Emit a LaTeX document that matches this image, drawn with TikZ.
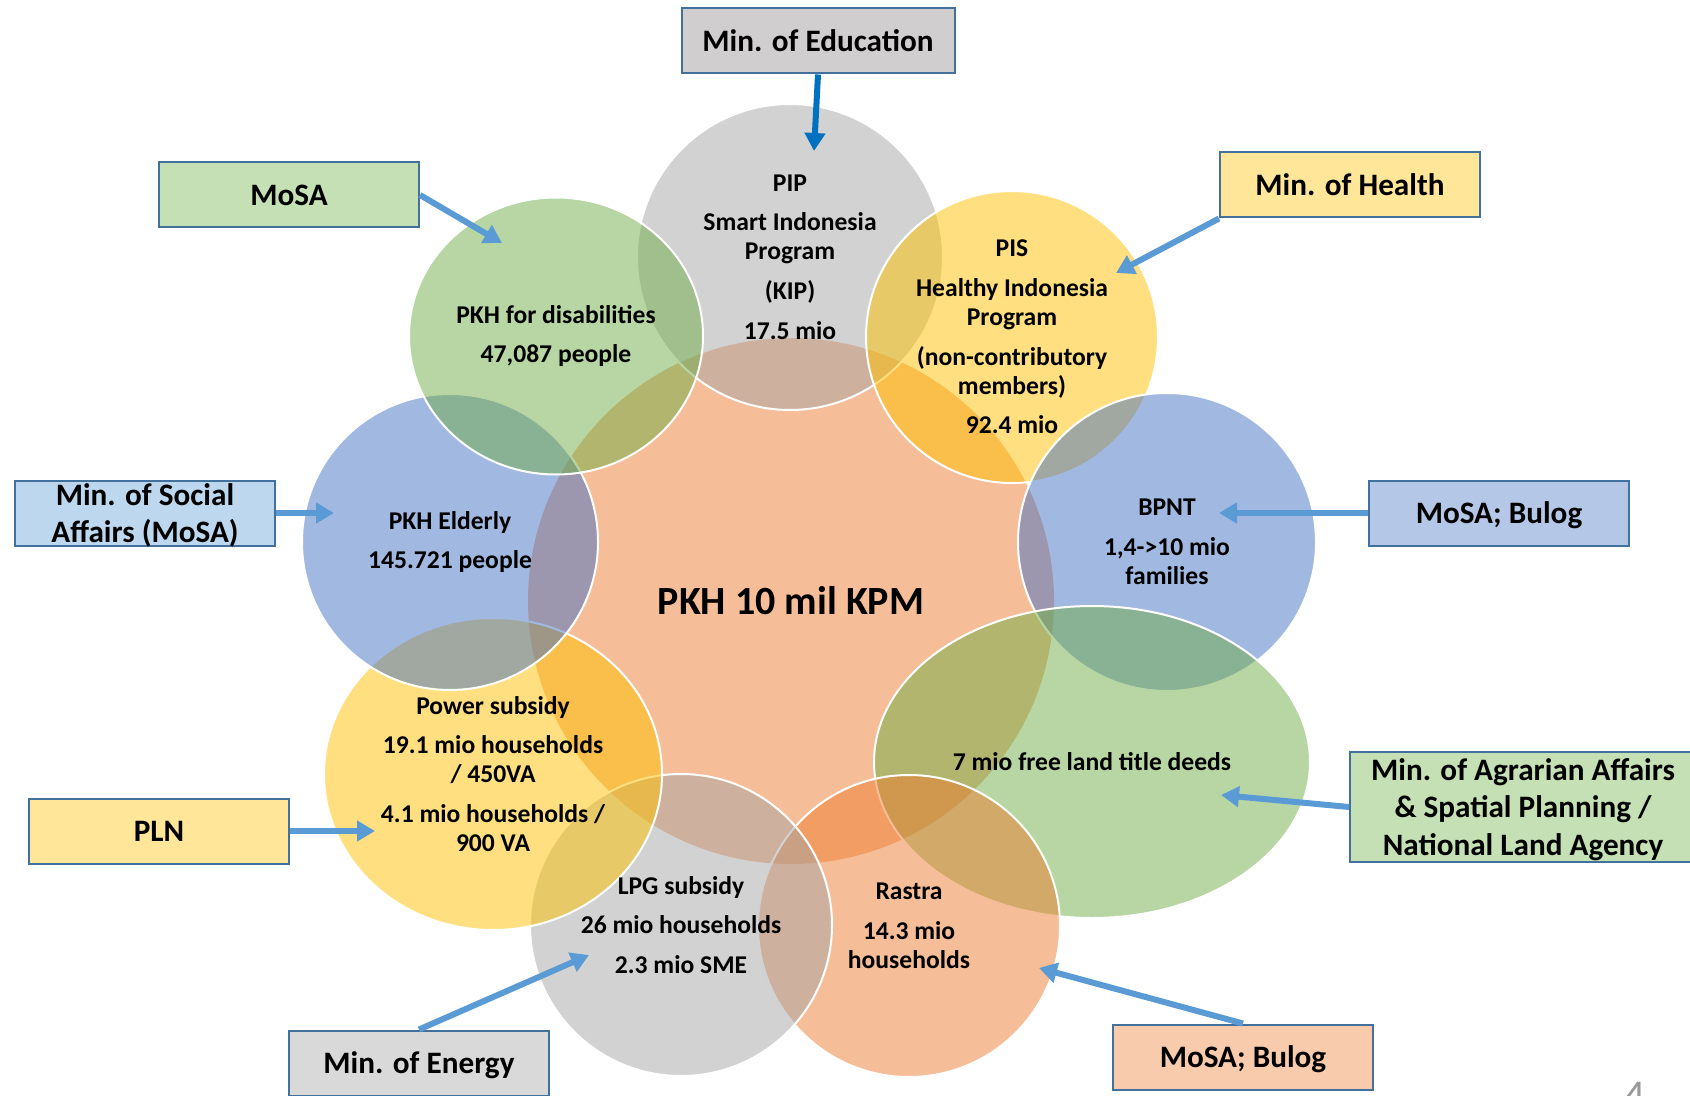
\documentclass[tikz,border=0pt]{standalone}
\usepackage{fontspec}
\setmainfont{Carlito}
\usetikzlibrary{shapes.geometric,arrows.meta}

\definecolor{orangeO}{HTML}{ED7D31}
\definecolor{grisO}{HTML}{A5A5A5}
\definecolor{jauneO}{HTML}{FFC000}
\definecolor{bleuO}{HTML}{4472C4}
\definecolor{vertO}{HTML}{70AD47}
\definecolor{bord}{HTML}{41719C}
\definecolor{flecheBleu}{HTML}{5B9BD5}
\definecolor{flecheFonce}{HTML}{0070C0}
\definecolor{boiteGris}{HTML}{D0CECE}
\definecolor{boiteGrisC}{HTML}{D9D9D9}
\definecolor{boiteVert}{HTML}{C5E0B4}
\definecolor{boiteJaune}{HTML}{FFE699}
\definecolor{boiteBleuC}{HTML}{BDD7EE}
\definecolor{boiteBleu}{HTML}{B4C7E7}
\definecolor{boiteSaumon}{HTML}{F8CBAD}

\begin{document}
\begin{tikzpicture}[x=0.5pt,y=-0.5pt,
  rond/.style={circle,draw=white,line width=1pt,fill opacity=0.5,inner sep=0pt},
  ovale/.style={ellipse,draw=white,line width=1pt,fill opacity=0.5,inner sep=0pt},
  texte/.style={align=center,font=\fontsize{12.8}{14.5}\selectfont\bfseries},
  boite/.style={draw=bord,line width=1pt,minimum width=130pt,minimum height=32.5pt,
    inner sep=0pt,text depth=0pt,align=center,font=\fontsize{15.6}{18.9}\selectfont\bfseries},
  fleche/.style={draw=flecheBleu,line width=3pt,-{Triangle[length=9pt,width=10pt]}}]

\useasboundingbox (0,0) rectangle (1690,1096);

% Cercle central
\node[rond,draw=none,fill=orangeO,minimum size=263pt] (kpm) at (791,601) {};

% Programmes autour
\node[rond,fill=grisO,minimum size=153pt] (pip) at (790,257) {};
\node[rond,fill=jauneO,minimum size=146pt] (pis) at (1012,337) {};
\node[rond,fill=bleuO,minimum size=149pt] (bpnt) at (1167,542) {};
\node[ovale,fill=vertO,minimum width=218pt,minimum height=156pt] (terre) at (1092,762) {};
\node[rond,fill=orangeO,minimum size=151pt] (rastra) at (909,926) {};
\node[rond,fill=grisO,minimum size=151pt] (lpg) at (681,925) {};
\node[ovale,fill=jauneO,minimum width=169pt,minimum height=156pt] (elec) at (493,774) {};
\node[rond,fill=bleuO,minimum size=148pt] (agees) at (450,542) {};
\node[ovale,fill=vertO,minimum width=147pt,minimum height=138.5pt] (handi) at (556,336) {};

% Textes des cercles
\node[font=\fontsize{20}{24}\selectfont\bfseries] (kpmT) at (kpm) {PKH 10 mil KPM};
\node[texte] (pipT) at (pip) {PIP\\[5.3pt] Smart Indonesia\\ Program\\[5.3pt] (KIP)\\[5.3pt] 17.5 mio};
\node[texte] (pisT) at (pis) {PIS\\[5.3pt] Healthy Indonesia\\ Program\\[5.3pt] (non-contributory\\ members)\\[5.3pt] 92.4 mio};
\node[texte] (bpntT) at (bpnt) {BPNT\\[5.3pt] 1,4->10 mio\\ families};
\node[texte] (terreT) at (terre) {7 mio free land title deeds};
\node[texte] (rastraT) at (rastra) {Rastra\\[5.3pt] 14.3 mio\\ households};
\node[texte] (lpgT) at (lpg) {LPG subsidy\\[5.3pt] 26 mio households\\[5.3pt] 2.3 mio SME};
\node[texte] (elecT) at (elec) {Power subsidy\\[5.3pt] 19.1 mio households\\ / 450VA\\[5.3pt] 4.1 mio households /\\ 900 VA};
\node[texte] (ageesT) at (agees) {PKH Elderly\\[5.3pt] 145.721 people};
\node[texte] (handiT) at (handi) {PKH for disabilities\\[5.3pt] 47,087 people};

% Ministeres
\node[boite,fill=boiteGris,minimum width=136.5pt] (edu) at (818,41) {Min. of Education};
\node[boite,fill=boiteVert] (mosaV) at (289,195) {MoSA};
\node[boite,fill=boiteJaune] (sante) at (1350,185) {Min. of Health};
\node[boite,fill=boiteBleuC] (social) at (145,513) {Min. of Social\\ Affairs (MoSA)};
\node[boite,fill=boiteBleu] (bulogB) at (1499,513) {MoSA; Bulog};
\node[boite,fill=boiteJaune] (pln) at (159,831) {PLN};
\node[boite,fill=boiteVert,minimum width=173pt,minimum height=55pt] (agr) at (1523,807)
  {Min. of Agrarian Affairs\\ \& Spatial Planning /\\ National Land Agency};
\node[boite,fill=boiteGrisC] (energie) at (419,1063) {Min. of Energy};
\node[boite,fill=boiteSaumon] (bulogO) at (1243,1057) {MoSA; Bulog};

% Pointes des fleches
\coordinate (pipF) at (814,151);
\coordinate (handiF) at (502,243);
\coordinate (pisF) at (1116,273);
\coordinate (ageesF) at (334,513);
\coordinate (bpntF) at (1219,513);
\coordinate (elecF) at (375,831);
\coordinate (terreF) at (1221,795);
\coordinate (lpgF) at (589,955);
\coordinate (rastraF) at (1039,968);

\draw[fleche,draw=flecheFonce] (edu.south) -- (pipF);
\draw[fleche] (mosaV.east) -- (handiF);
\draw[fleche] (sante.south west) -- (pisF);
\draw[fleche] (social.east) -- (ageesF);
\draw[fleche] (bulogB.west) -- (bpntF);
\draw[fleche] (pln.east) -- (elecF);
\draw[fleche] (agr.west) -- (terreF);
\draw[fleche] (energie.north) -- (lpgF);
\draw[fleche] (bulogO.north) -- (rastraF);

% Numero de page
\node[text=gray!80,font=\fontsize{22}{26}\selectfont,anchor=north,inner sep=0pt] (num) at (1635,1082) {4};

\end{tikzpicture}
\end{document}
